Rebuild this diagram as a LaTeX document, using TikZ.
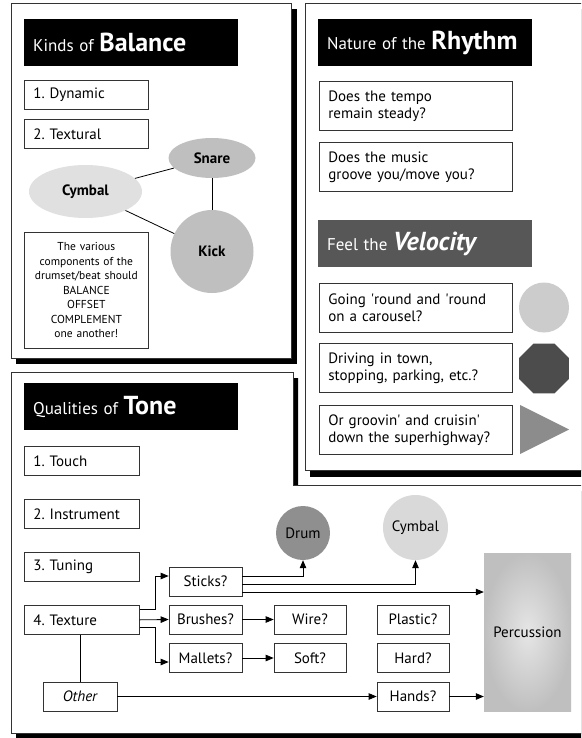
\documentclass[tikz,border=0pt]{standalone}
\usepackage{fontspec}
\setmainfont{PT Sans}
\usepackage{xcolor}
\usetikzlibrary{shapes.geometric, arrows.meta}
\definecolor{panelline}{gray}{0.2}
\definecolor{velgrey}{gray}{0.34}
\definecolor{lightgrey}{gray}{0.88}
\definecolor{midgrey}{gray}{0.75}
\definecolor{drumgrey}{gray}{0.56}
\definecolor{trigrey}{gray}{0.55}
\definecolor{roundgrey}{gray}{0.8}
\definecolor{stopgrey}{gray}{0.3}
\newcommand{\boxfont}{\fontsize{15}{17}\selectfont}
\newcommand{\smallfont}{\fontsize{11.5}{14.5}\selectfont}
\newcommand{\titleword}[1]{{\fontsize{26}{26}\selectfont\bfseries #1}}
\frenchspacing

\begin{document}
\begin{tikzpicture}[x=1pt, y=-1pt,
	panelbox/.style={fill=white, draw=panelline, line width=0.8pt},
	titlebar/.style={fill=black, text=white, anchor=north west, text width=196pt, inner xsep=9pt, minimum height=47pt, align=left, font=\fontsize{17}{20}\selectfont},
	itembox/.style={draw=panelline, line width=0.7pt, anchor=north west, inner xsep=9pt, inner ysep=0pt, align=left, font=\boxfont},
	oneline/.style={itembox, text width=#1, minimum height=29pt},
	twoline/.style={itembox, text width=175pt, minimum height=49pt},
	smallbox/.style={draw=panelline, line width=0.7pt, minimum width=72pt, minimum height=29pt, inner sep=0pt, font=\boxfont},
	drum/.style={circle, inner sep=0pt, font=\boxfont},
	link/.style={line width=0.8pt},
	arr/.style={link, -{Triangle[length=8pt, width=6.5pt]}}]

	\clip (0,0) rectangle (581,738);

	% panels with their shadows
	\fill (16,378) -- (298,378) -- (298,491) -- (620,491) -- (620,740) -- (16,740) -- cycle;
	\draw[panelbox] (11,372) -- (293,372) -- (293,485) -- (610,485) -- (610,733) -- (11,733) -- cycle;
	\fill (16,9) rectangle (297,364);
	\draw[panelbox] (11,3) rectangle (291,358);
	\fill (310,9) rectangle (620,477);
	\draw[panelbox] (305,3) rectangle (610,470);

	% Kinds of Balance
	\node[titlebar] (baltitle) at (24,19) {Kinds of \titleword{Balance}};
	\node[oneline=106pt] (dynamic) at (24,80) {1. Dynamic};
	\node[oneline=106pt] (textural) at (24,119) {2. Textural};
	\node[ellipse, fill=lightgrey, minimum width=113pt, minimum height=53pt, inner sep=0pt, font=\boxfont\bfseries] (cymbalb) at (85.5,191.5) {Cymbal};
	\node[ellipse, fill=midgrey, minimum width=87pt, minimum height=40pt, inner sep=0pt, font=\boxfont\bfseries] (snare) at (212,158) {Snare};
	\node[circle, fill=midgrey, minimum size=83pt, inner sep=0pt, font=\boxfont\bfseries] (kick) at (212,251.5) {Kick};
	\node[draw=panelline, line width=0.7pt, anchor=north west, text width=116pt, inner xsep=4pt, minimum height=116pt, align=center, font=\smallfont] (various) at (24,232) {The various\\components of the\\drumset/beat should\\BALANCE\\OFFSET\\COMPLEMENT\\one another!};

	\draw[link] (cymbalb) -- (snare);
	\draw[link] (cymbalb) -- (kick);
	\draw[link] (snare) -- (kick);

	% Nature of the Rhythm
	\node[titlebar] (rhytitle) at (318,19) {Nature of the \titleword{Rhythm}};
	\node[twoline] (tempo) at (319,81) {Does the tempo\\remain steady?};
	\node[twoline] (groove) at (319,142) {Does the music\\groove you/move you?};

	% Feel the Velocity
	\node[titlebar, fill=velgrey] (veltitle) at (318,220) {Feel the \titleword{\itshape Velocity}};
	\node[twoline] (carousel) at (319,283) {Going \textquotesingle round and \textquotesingle round\\on a carousel?};
	\node[twoline] (town) at (319,343) {Driving in town,\\stopping, parking, etc.?};
	\node[twoline] (highway) at (319,405) {Or groovin\textquotesingle{} and cruisin\textquotesingle\\down the superhighway?};
	\node[circle, fill=roundgrey, minimum size=50pt, inner sep=0pt] (round) at (544,307.5) {};
	\node[regular polygon, regular polygon sides=8, fill=stopgrey, minimum size=54pt, inner sep=0pt] (stop) at (544,368.5) {};
	\fill[trigrey] (520,405) -- (569,429.5) -- (520,454) -- cycle;

	% Qualities of Tone
	\node[titlebar] (tonetitle) at (24,383) {Qualities of \titleword{Tone}};
	\node[oneline=97pt] (touch) at (24,446) {1. Touch};
	\node[oneline=97pt] (instrument) at (24,499) {2. Instrument};
	\node[oneline=97pt] (tuning) at (24,552) {3. Tuning};
	\node[oneline=97pt] (texture) at (24,605) {4. Texture};
	\node[smallbox, minimum width=74pt, font=\boxfont\itshape] (other) at (80,696.5) {Other};

	\node[smallbox, minimum width=73pt] (sticks) at (205.5,581.5) {Sticks?};
	\node[smallbox, minimum width=73pt] (brushes) at (205.5,619.5) {Brushes?};
	\node[smallbox, minimum width=73pt] (mallets) at (205.5,658) {Mallets?};
	\node[smallbox] (wire) at (310,619.5) {Wire?};
	\node[smallbox] (soft) at (310,658) {Soft?};
	\node[smallbox] (plastic) at (413,619.5) {Plastic?};
	\node[smallbox] (hard) at (413,658) {Hard?};
	\node[smallbox] (hands) at (413,696.5) {Hands?};

	\node[drum, fill=drumgrey, minimum size=54pt] (drum) at (303,533) {Drum};
	\node[drum, fill=gray!30, minimum size=65pt] (cymbalt) at (415.5,527.5) {Cymbal};
	\node[inner color=gray!20, outer color=gray!50, minimum width=87pt, minimum height=158pt, font=\boxfont] (perc) at (527.5,632) {Percussion};

	\coordinate (stk1) at ([yshift=5.5pt]sticks.east);
	\coordinate (stk2) at ([yshift=-2.5pt]sticks.east);
	\coordinate (stk3) at ([yshift=-10.5pt]sticks.east);

	\draw[arr] ([yshift=10pt]texture.east) -- ++(16,0) |- ([yshift=5.5pt]sticks.west);
	\draw[arr] (texture.east) -- (brushes.west);
	\draw[arr] ([yshift=-8pt]texture.east) -- ++(16,0) |- ([yshift=-4pt]mallets.west);
	\draw[arr] (stk1) -| (drum.south);
	\draw[arr] (stk2) -| (cymbalt.south);
	\draw[arr] (stk3) -- (stk3 -| perc.west);
	\draw[arr] (brushes) -- (wire);
	\draw[arr] (mallets) -- (soft);
	\draw[link] (other.north |- texture.south) -- (other.north);
	\draw[arr] (other) -- (hands);
	\draw[arr] (hands.east) -- (hands.east -| perc.west);
\end{tikzpicture}
\end{document}
